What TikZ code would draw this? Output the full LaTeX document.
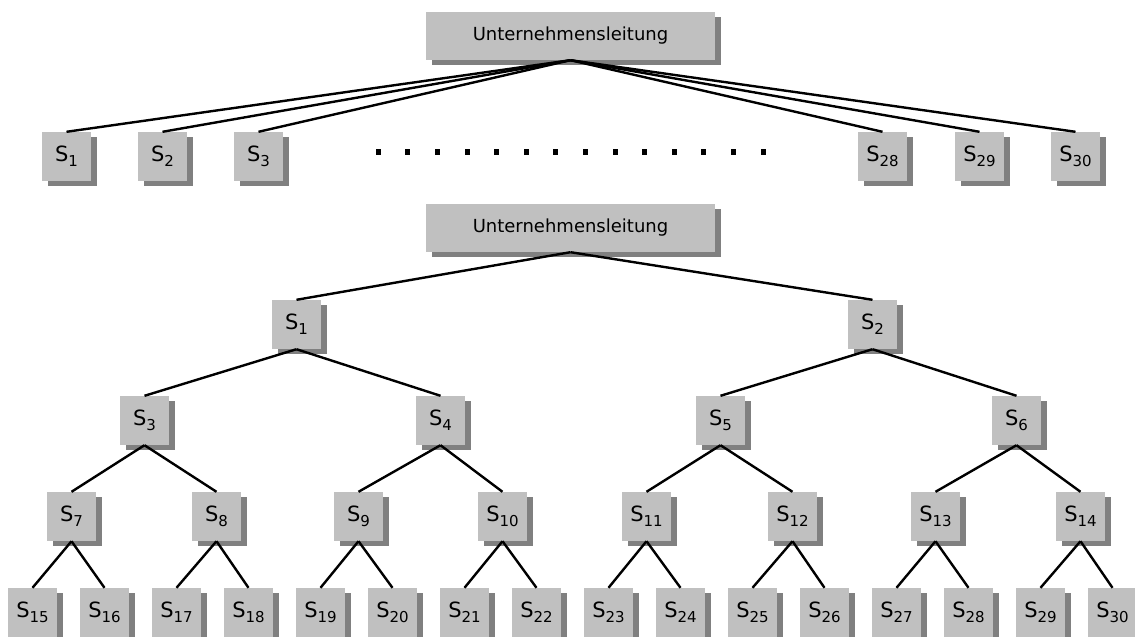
\documentclass[tikz,border=0pt]{standalone}
\usepackage{fontspec}
\setmainfont{DejaVu Sans}
\usetikzlibrary{shadows}
\definecolor{boxgray}{HTML}{C0C0C0}
\definecolor{shadowgray}{HTML}{808080}
\newcommand{\Sx}[1]{{\fontsize{21}{21}\selectfont S}\raisebox{-5pt}{\fontsize{15}{15}\selectfont #1}}
\tikzset{
  box/.style={fill=boxgray, inner sep=0pt, font=\fontsize{18}{18}\selectfont,
    drop shadow={shadow xshift=6pt, shadow yshift=-5pt, fill=shadowgray, opacity=1}},
  sbox/.style={box, minimum width=49pt, minimum height=49pt},
  lbox/.style={box, minimum width=289pt, minimum height=48pt},
  conn/.style={line width=2.4pt, black},
  dot/.style={fill=black, inner sep=0pt, minimum width=5pt, minimum height=6pt}
}
\begin{document}
\begin{tikzpicture}[x=1pt, y=-1pt]
\useasboundingbox (0,0) rectangle (1135,637);
% ---------- top flat structure ----------
\node[lbox] (U1) at (570.5,36) {Unternehmensleitung};
\foreach \n/\x in {1/66.5, 2/162.5, 3/258.5, 28/882.5, 29/979.5, 30/1075.5} {
  \node[sbox] (a\n) at (\x,156.5) {\Sx{\n}};
}
\foreach \n in {1,2,3,28,29,30} {
  \draw[conn] (U1.south) -- (a\n.north);
}
\foreach \i in {0,...,13} {
  \node[dot] (d\i) at (378.3+29.6*\i,152.3) {};
}
% ---------- hierarchical structure ----------
\node[lbox] (U2) at (570.5,228) {Unternehmensleitung};
\node[sbox] (b1) at (296.5,324.5) {\Sx{1}};
\node[sbox] (b2) at (872.5,324.5) {\Sx{2}};
\foreach \n/\x in {3/144.5, 4/440.5, 5/720.5, 6/1016.5} {
  \node[sbox] (b\n) at (\x,420.5) {\Sx{\n}};
}
\foreach \n/\x in {7/71.5, 8/216.5, 9/358.5, 10/502.5, 11/646.5, 12/792.5, 13/935.5, 14/1080.5} {
  \node[sbox] (b\n) at (\x,516.5) {\Sx{\n}};
}
\foreach \k in {0,...,15} {
  \pgfmathtruncatemacro{\n}{15+\k}
  \node[sbox] (b\n) at (32.5+72*\k,612.5) {\Sx{\n}};
}
\draw[conn] (U2.south) -- (b1.north);
\draw[conn] (U2.south) -- (b2.north);
\foreach \p in {1,...,14} {
  \pgfmathtruncatemacro{\l}{2*\p+1}
  \pgfmathtruncatemacro{\r}{2*\p+2}
  \draw[conn] (b\p.south) -- (b\l.north);
  \draw[conn] (b\p.south) -- (b\r.north);
}
\end{tikzpicture}
\end{document}
